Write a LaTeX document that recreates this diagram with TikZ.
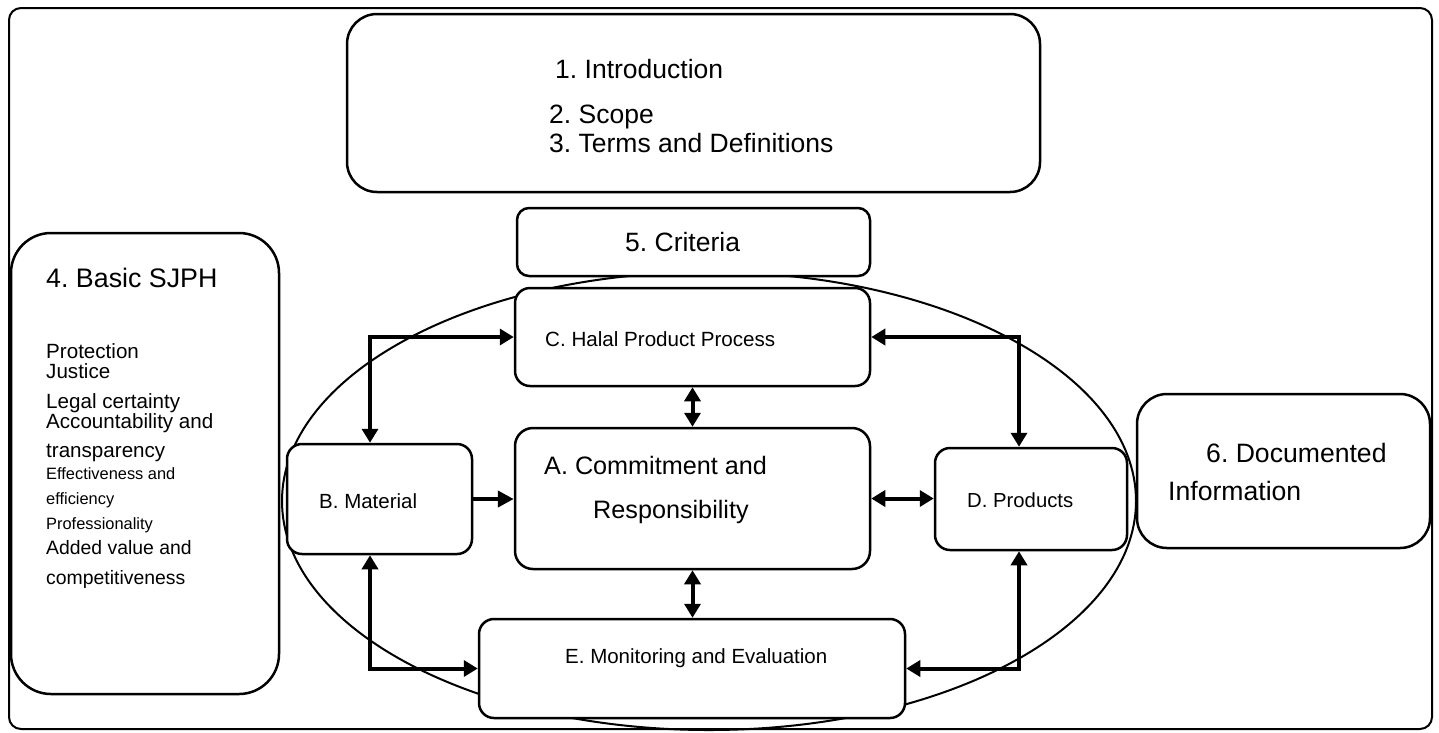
\documentclass[tikz,border=0pt]{standalone}
\usepackage{fontspec}
\setmainfont{Liberation Sans}
\usetikzlibrary{arrows.meta}
\newcommand\fsz[1]{\fontsize{#1}{#1}\selectfont}
\frenchspacing
\begin{document}
\begin{tikzpicture}[x=1pt,y=-1pt,
  frame/.style={draw, line width=2pt, rounded corners=12pt},
  box/.style={draw, line width=2.5pt, fill=white, rounded corners=15pt, inner sep=0pt},
  txt/.style={anchor=base west, inner sep=0pt, font=\frenchspacing},
  arr/.style={line width=4pt, -{Triangle[length=16pt,width=16pt]}},
  dbl/.style={line width=4pt, {Triangle[length=14pt,width=16pt]}-{Triangle[length=14pt,width=16pt]}}]
\useasboundingbox (0,0) rectangle (1439,732);
\fill[white] (0,0) rectangle (1439,732);
% outer frame
\node[frame, minimum width=1423, minimum height=721] (frame) at (720.5,368.5) {};
% ellipse
\draw[line width=2pt] (709,501) ellipse [x radius=427, y radius=229];
% boxes
\node[box, rounded corners=30pt, minimum width=693, minimum height=178] (top) at (693.5,103) {};
\node[box, rounded corners=12pt, minimum width=353, minimum height=68] (crit) at (693.5,242) {};
\node[box, rounded corners=40pt, minimum width=268, minimum height=461] (basic) at (145,463.5) {};
\node[box, minimum width=355, minimum height=98] (C) at (692.5,337) {};
\node[box, rounded corners=18pt, minimum width=355, minimum height=141] (A) at (692.5,498.5) {};
\node[box, minimum width=185, minimum height=110] (B) at (379.5,499) {};
\node[box, minimum width=192, minimum height=102] (D) at (1031,499) {};
\node[box, minimum width=426, minimum height=99] (E) at (692,668.5) {};
\node[box, rounded corners=30pt, minimum width=293, minimum height=154] (doc) at (1283.5,471) {};
% helper coordinates for the vertical runs
\coordinate (bx) at (370,0);
\coordinate (dx) at (1019,0);
% connectors
\draw[dbl] (C.west) -| (bx |- B.north);
\draw[dbl] (bx |- B.south) |- (E.west);
\draw[dbl] (C.east) -| (dx |- D.north);
\draw[dbl] (dx |- D.south) |- (E.east);
\draw[arr] (B.east) -- (B.east -| A.west);
\draw[dbl] (A.east) -- (A.east -| D.west);
\draw[dbl] (C.south) -- (A.north);
\draw[dbl] (A.south) -- (A.south |- E.north);
% texts
\node[txt] (t1) at (555,78) {\fsz{26.5}1. Introduction};
\node[txt] (t2) at (549,123) {\fsz{26.5}2. Scope};
\node[txt] (t3) at (549,152) {\fsz{26.5}3. Terms and Definitions};
\node[txt] (t5) at (625,251) {\fsz{26.5}5. Criteria};
\node[txt] (t4) at (46,287) {\fsz{26.8}4. Basic SJPH};
\node[txt] (l1) at (46,358) {\fsz{20.6}Protection};
\node[txt] (l2) at (46,378) {\fsz{20.6}Justice};
\node[txt] (l3) at (46,408) {\fsz{20.6}Legal certainty};
\node[txt] (l4) at (46,428) {\fsz{20.6}Accountability and};
\node[txt] (l5) at (46,457) {\fsz{20.6}transparency};
\node[txt] (l6) at (46,479) {\fsz{16.4}Effectiveness and};
\node[txt] (l7) at (46,504) {\fsz{16.4}efficiency};
\node[txt] (l8) at (46,529) {\fsz{16.4}Professionality};
\node[txt] (l9) at (46,554) {\fsz{19.4}Added value and};
\node[txt] (l10) at (46,584) {\fsz{19.4}competitiveness};
\node[txt] (tc) at (545,346) {\fsz{20.6}C. Halal Product Process};
\node[txt] (ta1) at (544,474) {\fsz{25.2}A. Commitment and};
\node[txt] (ta2) at (593,518) {\fsz{25.2}Responsibility};
\node[txt] (tb) at (319,508) {\fsz{20.5}B. Material};
\node[txt] (td) at (967,507) {\fsz{20.3}D. Products};
\node[txt] (te) at (565,663) {\fsz{20.5}E. Monitoring and Evaluation};
\node[txt] (t6a) at (1206,462) {\fsz{26.6}6. Documented};
\node[txt] (t6b) at (1168,500) {\fsz{26.6}Information};
\end{tikzpicture}
\end{document}
